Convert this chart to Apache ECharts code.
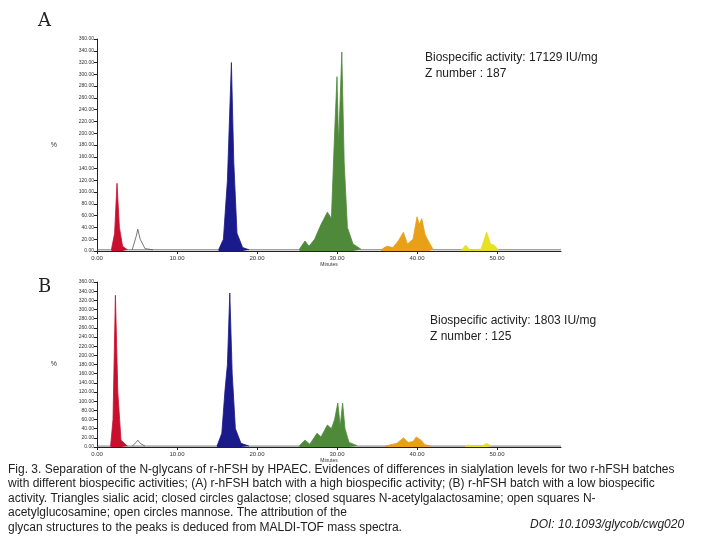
<!DOCTYPE html>
<html><head><meta charset="utf-8">
<script src="https://cdn.jsdelivr.net/npm/echarts@6/dist/echarts.min.js"></script>
<style>html,body{margin:0;background:#fff}#c{width:720px;height:540px}</style>
</head><body><div id="c"></div>
<script>
// panel A: [minutes, response]
const aBase = [[0,2],[58,2]];
const aRed = [[1.8,2],[2.2,30],[2.5,115],[2.8,40],[3.2,8],[3.8,2]];
const aWhite = [[4.4,2],[4.9,25],[5.1,37],[5.4,20],[6,4],[7,2]];
const aBlue = [[15.2,2],[15.8,20],[16.3,120],[16.8,320],[17.1,150],[17.5,30],[18.2,6],[19,2]];
const aGreen = [[25.3,3],[26,17],[26.5,8],[27.2,20],[28,45],[28.8,66],[29.3,55],[29.7,200],[30,296],[30.2,180],[30.6,338],[30.9,150],[31.3,40],[32,12],[33,3]];
const aOrange = [[35.5,2],[36.2,8],[37,6],[37.7,18],[38.3,32],[38.8,12],[39.5,20],[40,58],[40.3,45],[40.6,55],[41,28],[41.5,15],[42,3]];
const aYellow = [[45.6,2],[46.1,10],[46.6,2],[48,3],[48.7,32],[49.2,12],[49.6,10],[50.2,2]];
// panel B
const bBase = [[0,2],[58,2]];
const bRed = [[1.7,2],[2.0,60],[2.3,331],[2.6,120],[3.0,15],[3.8,2]];
const bWhite = [[4.4,2],[4.9,10],[5.1,15],[5.4,8],[6,2]];
const bBlue = [[15,2],[15.6,30],[16,124],[16.3,180],[16.6,336],[16.9,160],[17.3,40],[18,8],[19,2]];
const bGreen = [[25.3,3],[26,15],[26.6,6],[27.5,30],[28,22],[28.8,48],[29.3,40],[29.7,60],[30.1,96],[30.4,45],[30.7,96],[31,40],[31.5,10],[32.5,3]];
const bOrange = [[36,2],[37.5,8],[38.3,20],[38.9,10],[39.5,12],[39.9,22],[40.5,15],[41,5],[41.8,2]];
const bYellow = [[46,2],[46.3,4],[46.8,2],[48.2,3],[48.7,8],[49.3,2]];
const yTicks = {min:0, max:360, interval:20};
const xTicks = {min:0, max:58, interval:10};

const chart = echarts.init(document.getElementById('c'));
const tickFmt = v => v.toFixed(2);
function xAx(i){return {type:'value',gridIndex:i,...xTicks,name:'Minutes',nameLocation:'middle',nameGap:10,
  nameTextStyle:{fontSize:5,color:'#333'},
  axisLine:{lineStyle:{color:'#222'}},axisTick:{length:3},splitLine:{show:false},
  axisLabel:{fontSize:6,color:'#333',formatter:tickFmt,showMaxLabel:false,margin:4}};}
function yAx(i){return {type:'value',gridIndex:i,...yTicks,name:'%',nameLocation:'middle',nameGap:40,nameRotate:0,
  nameTextStyle:{fontSize:7,color:'#333'},
  axisLine:{show:true,lineStyle:{color:'#222'}},axisTick:{length:3},splitLine:{show:false},
  axisLabel:{fontSize:5,color:'#333',formatter:tickFmt,margin:3}};}
function s(data,color,i,fill){return {type:'line',data,xAxisIndex:i,yAxisIndex:i,symbol:'none',
  lineStyle:{color:fill?color:'#555',width:0.8},areaStyle:fill?{color,opacity:1}:undefined,z:fill?3:2};}
const series = [
  s(aBase,'#555',0,false),s(aWhite,'#555',0,false),s(aRed,'#c8102e',0,true),s(aBlue,'#1a1a8c',0,true),
  s(aGreen,'#4f8a3a',0,true),s(aOrange,'#e8a018',0,true),s(aYellow,'#e8e020',0,true),
  s(bBase,'#555',1,false),s(bWhite,'#555',1,false),s(bRed,'#c8102e',1,true),s(bBlue,'#1a1a8c',1,true),
  s(bGreen,'#4f8a3a',1,true),s(bOrange,'#e8a018',1,true),s(bYellow,'#e8e020',1,true)
];
const cap = 'Fig. 3. Separation of the N-glycans of r-hFSH by HPAEC. Evidences of differences in sialylation levels for two r-hFSH batches\n' +
  'with different biospecific activities; (A) r-hFSH batch with a high biospecific activity; (B) r-hFSH batch with a low biospecific\n' +
  'activity. Triangles sialic acid; closed circles galactose; closed squares N-acetylgalactosamine; open squares N-\n' +
  'acetylglucosamine; open circles mannose. The attribution of the\n' +
  'glycan structures to the peaks is deduced from MALDI-TOF mass spectra.';
chart.setOption({
  animation:false,
  grid:[{left:97,top:39,width:464,height:212},{left:97,top:282,width:464,height:165}],
  xAxis:[xAx(0),xAx(1)], yAxis:[yAx(0),yAx(1)], series,
  graphic:[
    {type:'text',left:38,top:12,style:{text:'A',font:'18px "DejaVu Serif", serif',fill:'#222'}},
    {type:'text',left:38,top:278,style:{text:'B',font:'18px "DejaVu Serif", serif',fill:'#222'}},
    {type:'text',left:425,top:50,style:{text:'Biospecific activity: 17129 IU/mg\nZ number : 187',font:'12px "Liberation Sans", Arial',lineHeight:16,fill:'#222'}},
    {type:'text',left:430,top:313,style:{text:'Biospecific activity: 1803 IU/mg\nZ number : 125',font:'12px "Liberation Sans", Arial',lineHeight:16,fill:'#222'}},
    {type:'text',left:8,top:462,style:{text:cap,font:'12px "Liberation Sans", Arial',lineHeight:14.5,fill:'#222'}},
    {type:'text',left:530,top:519,style:{text:'DOI: 10.1093/glycob/cwg020',font:'italic 12px "Liberation Sans", Arial',fill:'#222'}}
  ]
});
</script></body></html>
